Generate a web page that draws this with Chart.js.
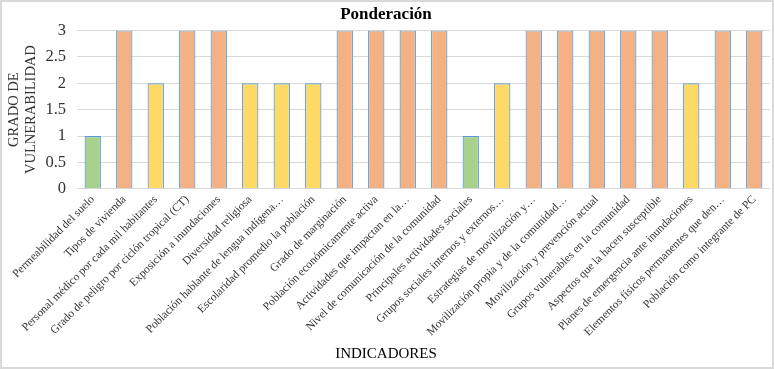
<!DOCTYPE html>
<html>
<head>
<meta charset="utf-8">
<script src="https://cdn.jsdelivr.net/npm/chart.js@4.4.1/dist/chart.umd.min.js"></script>
<style>
  html, body { margin: 0; padding: 0; background: #fff; }
  #wrap { width: 774px; height: 369px; box-sizing: border-box; border: 2px solid #d9d9d9; }
  canvas { display: block; }
</style>
</head>
<body>
<div id="wrap"><canvas id="ponderacion" width="770" height="365"></canvas></div>
<script>
// indicadores (eje X)
const indicadores = [
  "Permeabilidad del suelo",
  "Tipos de vivienda",
  "Personal médico por cada mil habitantes",
  "Grado de peligro por ciclón tropical (CT)",
  "Exposición a inundaciones",
  "Diversidad religiosa",
  "Población hablante de lengua indígena…",
  "Escolaridad promedio la población",
  "Grado de marginación",
  "Población económicamente activa",
  "Actividades que impactan en la…",
  "Nivel de comunicación de la comunidad",
  "Principales actividades sociales",
  "Grupos sociales internos y externos…",
  "Estrategias de movilización y…",
  "Movilización propia y de la comunidad…",
  "Movilización y prevención actual",
  "Grupos vulnerables en la comunidad",
  "Aspectos que la hacen susceptible",
  "Planes de emergencia ante inundaciones",
  "Elementos físicos permanentes que den…",
  "Población como integrante de PC"
];

// grado de vulnerabilidad de cada indicador
const grado = [1, 3, 2, 3, 3, 2, 2, 2, 3, 3, 3, 3, 1, 2, 3, 3, 3, 3, 3, 2, 3, 3];

// marcas del eje Y
const yTicks = [0, 0.5, 1, 1.5, 2, 2.5, 3];

// color por nivel (1 bajo, 2 medio, 3 alto)
const nivelColor = { 1: "#a9d18e", 2: "#ffd966", 3: "#f4b183" };

const serif = "'Liberation Serif', 'Times New Roman', serif";

new Chart(document.getElementById("ponderacion").getContext("2d"), {
  type: "bar",
  data: {
    labels: indicadores,
    datasets: [{
      label: "Ponderación",
      data: grado,
      backgroundColor: grado.map(v => nivelColor[v]),
      borderColor: "#5b9bd5",
      borderWidth: 1.2,
      categoryPercentage: 1,
      barPercentage: 0.52
    }]
  },
  options: {
    responsive: false,
    animation: false,
    layout: { padding: { top: 0, right: 2, left: 0, bottom: 0 } },
    scales: {
      x: {
        grid: { display: false, drawTicks: false },
        border: { display: false },
        ticks: {
          color: "#333",
          font: { family: serif, size: 11.5 },
          minRotation: 45,
          maxRotation: 45,
          autoSkip: false,
          padding: 4
        }
      },
      y: {
        min: 0,
        max: 3,
        afterBuildTicks: axis => { axis.ticks = yTicks.map(v => ({ value: v })); },
        // keep the value axis as narrow as in the original so the plot starts at the same spot
        afterFit: scale => { scale.width = 75; },
        grid: { color: "#d9d9d9", lineWidth: 1, drawTicks: false },
        border: { display: false },
        ticks: {
          color: "#333",
          font: { family: serif, size: 16.5 },
          padding: 11,
          autoSkip: false,
          callback: v => String(v)
        },
        title: {
          display: true,
          text: ["GRADO DE", "VULNERABILIDAD"],
          color: "#333",
          font: { family: serif, size: 14.5, lineHeight: 1.15 },
          padding: { top: 4, bottom: 2 }
        }
      }
    },
    plugins: {
      legend: { display: false },
      tooltip: { enabled: false },
      title: {
        display: true,
        text: "Ponderación",
        color: "#000",
        font: { family: serif, size: 17, weight: "bold" },
        padding: { top: 2, bottom: 6 }
      },
      subtitle: {
        display: true,
        position: "bottom",
        text: "INDICADORES",
        color: "#000",
        font: { family: serif, size: 15 },
        padding: { top: 2, bottom: 4 }
      }
    }
  }
});
</script>
</body>
</html>
